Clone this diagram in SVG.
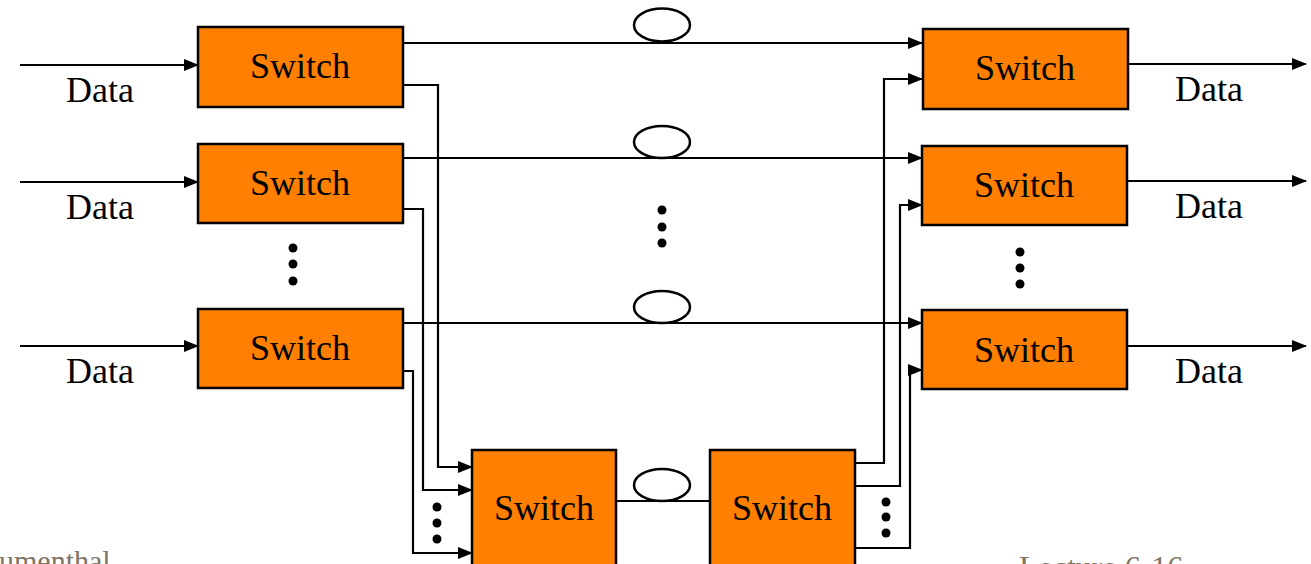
<svg xmlns="http://www.w3.org/2000/svg" width="1311" height="564" viewBox="0 0 1311 564">
<defs>
<marker id="ah" markerUnits="userSpaceOnUse" markerWidth="16" markerHeight="12" refX="14" refY="6" orient="auto">
<path d="M0,0 L15,6 L0,12 z" fill="#000"/>
</marker>
<style>
.box{fill:#ff7f00;stroke:#000;stroke-width:2.5}
text{font-family:'Liberation Serif','DejaVu Serif',serif}
.lbl{font-size:36px;fill:#000}
.sw{text-anchor:middle}
.ln{fill:none;stroke:#000;stroke-width:2.2}
.a{marker-end:url(#ah)}
.el{fill:#fff;stroke:#000;stroke-width:2.5}
.foot{font-size:30px;fill:#7f7463}
</style>
</defs>
<rect width="1311" height="564" fill="#fff"/>
<g id="connectors">
<line class="ln a" x1="20" y1="65" x2="198" y2="65"/>
<line class="ln a" x1="20" y1="182" x2="198" y2="182"/>
<line class="ln a" x1="20" y1="346" x2="198" y2="346"/>
<line class="ln a" x1="403" y1="43" x2="922" y2="43"/>
<line class="ln a" x1="403" y1="158" x2="922" y2="158"/>
<line class="ln a" x1="403" y1="323" x2="922" y2="323"/>
<polyline class="ln a" points="403,85 438,85 438,467 472,467"/>
<polyline class="ln a" points="403,209 423,209 423,490 472,490"/>
<polyline class="ln a" points="403,371 413,371 413,553 472,553"/>
<polyline class="ln a" points="855,463 884,463 884,79 922,79"/>
<polyline class="ln a" points="855,486 900,486 900,205 922,205"/>
<polyline class="ln a" points="855,548 910,548 910,370 922,370"/>
<line class="ln a" x1="1128" y1="64" x2="1306" y2="64"/>
<line class="ln a" x1="1128" y1="181" x2="1306" y2="181"/>
<line class="ln a" x1="1128" y1="346" x2="1306" y2="346"/>
<line class="ln" x1="616" y1="501" x2="710" y2="501"/>
<ellipse class="el" cx="662" cy="25" rx="28" ry="16.5"/>
<ellipse class="el" cx="662" cy="142" rx="28" ry="16"/>
<ellipse class="el" cx="662" cy="307" rx="28" ry="16"/>
<ellipse class="el" cx="662" cy="485" rx="28" ry="16"/>
</g>
<g id="dots" fill="#000">
<circle cx="293" cy="248" r="4.5"/><circle cx="293" cy="264" r="4.5"/><circle cx="293" cy="281" r="4.5"/>
<circle cx="662" cy="210" r="4.5"/><circle cx="662" cy="227" r="4.5"/><circle cx="662" cy="243" r="4.5"/>
<circle cx="1020" cy="252" r="4.5"/><circle cx="1020" cy="268" r="4.5"/><circle cx="1020" cy="284" r="4.5"/>
<circle cx="437" cy="507" r="4.5"/><circle cx="437" cy="523" r="4.5"/><circle cx="437" cy="539" r="4.5"/>
<circle cx="886" cy="502" r="4.5"/><circle cx="886" cy="517" r="4.5"/><circle cx="886" cy="533" r="4.5"/>
</g>
<g id="in1"><rect class="box" x="198" y="27" width="205" height="80"/><text class="lbl sw" x="300" y="78" font-family="Liberation Serif, serif">Switch</text></g>
<g id="in2"><rect class="box" x="198" y="144" width="205" height="79"/><text class="lbl sw" x="300" y="195" font-family="Liberation Serif, serif">Switch</text></g>
<g id="in3"><rect class="box" x="198" y="309" width="205" height="79"/><text class="lbl sw" x="300" y="360" font-family="Liberation Serif, serif">Switch</text></g>
<g id="out1"><rect class="box" x="923" y="29" width="205" height="80"/><text class="lbl sw" x="1025" y="80" font-family="Liberation Serif, serif">Switch</text></g>
<g id="out2"><rect class="box" x="922" y="146" width="205" height="79"/><text class="lbl sw" x="1024" y="197" font-family="Liberation Serif, serif">Switch</text></g>
<g id="out3"><rect class="box" x="922" y="310" width="205" height="79"/><text class="lbl sw" x="1024" y="362" font-family="Liberation Serif, serif">Switch</text></g>
<g id="mid1"><rect class="box" x="472" y="450" width="144" height="130"/><text class="lbl sw" x="544" y="520" font-family="Liberation Serif, serif">Switch</text></g>
<g id="mid2"><rect class="box" x="710" y="450" width="145" height="130"/><text class="lbl sw" x="782" y="520" font-family="Liberation Serif, serif">Switch</text></g>
<g id="labels" font-family="Liberation Serif, serif">
<text class="lbl" x="66" y="102">Data</text>
<text class="lbl" x="66" y="219">Data</text>
<text class="lbl" x="66" y="383">Data</text>
<text class="lbl" x="1175" y="101">Data</text>
<text class="lbl" x="1175" y="218">Data</text>
<text class="lbl" x="1175" y="383">Data</text>
<text class="foot" x="-1" y="571">umenthal</text>
<text class="foot" x="1019" y="578" style="font-size:32px">Lecture 6-16</text>
</g>
</svg>
